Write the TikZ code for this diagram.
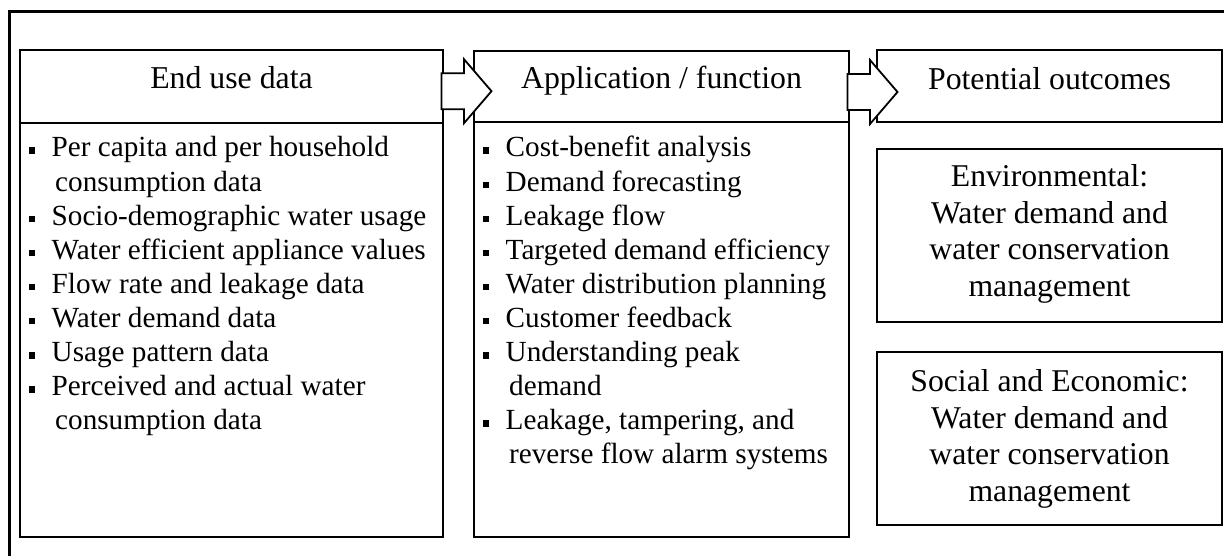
\documentclass[tikz,border=0pt]{standalone}
\usepackage{fontspec}
\setmainfont{Liberation Serif}
\usetikzlibrary{calc}
\newcommand\bx{\makebox[31.5pt][l]{\hspace{9pt}\rule[3pt]{5.5pt}{6.5pt}}}
\newcommand\cx{\hspace*{35pt}}
\begin{document}
\begin{tikzpicture}[x=1pt,y=-1pt,
  box/.style={draw, line width=1.8pt, inner sep=0pt, outer sep=0pt, anchor=north west},
  hdrtext/.style={anchor=base, inner sep=0pt, font=\fontsize{31.8}{36.5}\selectfont},
  listtext/.style={anchor=base west, inner sep=0pt},
  outtext/.style={anchor=base, inner sep=0pt},
  barrow/.pic={\draw[line width=1.8pt, fill=white, line join=miter]
     (-1.5,-18) -- (21,-18) -- (21,-32) -- (48.5,0) -- (21,32) -- (21,18) -- (-1.5,18) -- cycle;}
]
\useasboundingbox (0,0) rectangle (1224,556);
\begin{scope}
  \clip (0,0) rectangle (1224,556);
  \draw[line width=3pt] (9,11.5) rectangle (1260,600);
\end{scope}

% column 1
\node[box, minimum width=423pt, minimum height=73pt] (h1) at (20,50) {};
\node[box, minimum width=423pt, minimum height=414pt] (b1) at (20,123) {};
% column 2
\node[box, minimum width=375pt, minimum height=71pt] (h2) at (474,51) {};
\node[box, minimum width=375pt, minimum height=415pt] (b2) at (474,122) {};
% column 3
\node[box, minimum width=345pt, minimum height=72pt] (h3) at (877,50) {};
\node[box, minimum width=345pt, minimum height=173pt] (o1) at (877,149) {};
\node[box, minimum width=345pt, minimum height=173pt] (o2) at (877,352) {};

% headers
\node[hdrtext] (t1) at ($(h1.north)+(0,39)$) {End use data};
\node[hdrtext] (t2) at ($(h2.north)+(0,38)$) {Application / function};
\node[hdrtext] (t3) at ($(h3.north)+(0,40)$) {Potential outcomes};

% lists
\node[listtext] (l1) at ($(b1.north west)+(0,34)$) {\parbox[t]{415pt}{\fontsize{29.2}{34.1}\selectfont\raggedright
\bx Per capita and per household\\
\cx consumption data\\
\bx Socio-demographic water usage\\
\bx Water efficient appliance values\\
\bx Flow rate and leakage data\\
\bx Water demand data\\
\bx Usage pattern data\\
\bx Perceived and actual water\\
\cx consumption data}};

\node[listtext] (l2) at ($(b2.north west)+(0,35)$) {\parbox[t]{370pt}{\fontsize{29.2}{34.1}\selectfont\raggedright
\bx Cost-benefit analysis\\
\bx Demand forecasting\\
\bx Leakage flow\\
\bx Targeted demand efficiency\\
\bx Water distribution planning\\
\bx Customer feedback\\
\bx Understanding peak\\
\cx demand\\
\bx Leakage, tampering, and\\
\cx reverse flow alarm systems}};

% outcomes
\node[outtext] (e1) at ($(o1.north)+(0,38)$) {\parbox[t]{340pt}{\centering\fontsize{31.7}{36.5}\selectfont
Environmental:\\Water demand and\\water conservation\\management}};
\node[outtext] (e2) at ($(o2.north)+(0,39.5)$) {\parbox[t]{340pt}{\centering\fontsize{31.7}{36.5}\selectfont
Social and Economic:\\Water demand and\\water conservation\\management}};

% block arrows
\pic at ($(h1.east)+(0,4.7)$) {barrow};
\pic at ($(h2.east)+(0,5.5)$) {barrow};
\end{tikzpicture}
\end{document}
